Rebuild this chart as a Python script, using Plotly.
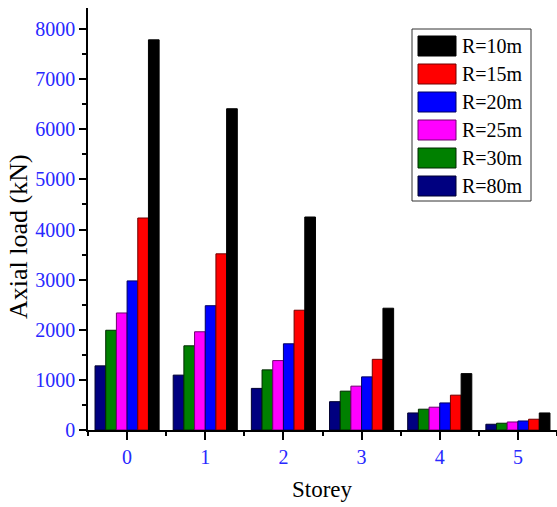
import plotly.graph_objects as go

storeys = [0, 1, 2, 3, 4, 5]
series_names = ["R=80m", "R=30m", "R=25m", "R=20m", "R=15m", "R=10m"]
r80 = [1280, 1095, 830, 565, 340, 115]
r30 = [1990, 1680, 1200, 775, 415, 135]
r25 = [2335, 1960, 1385, 875, 455, 160]
r20 = [2975, 2480, 1720, 1060, 540, 180]
r15 = [4230, 3515, 2390, 1410, 695, 215]
r10 = [7785, 6410, 4250, 2430, 1125, 340]
values = [r80, r30, r25, r20, r15, r10]
colors = ["#000080", "#008000", "#ff00ff", "#0000ff", "#ff0000", "#000000"]
edges = ["#000030", "#002800", "#700070", "#000060", "#700000", "#000000"]
legend_order = ["R=10m", "R=15m", "R=20m", "R=25m", "R=30m", "R=80m"]
x_title = "Storey"
y_title = "Axial load (kN)"

FONT = "Liberation Serif, Times New Roman, serif"
TICKBLUE = "#2828ff"

fig = go.Figure()
for name, vals, c, e in zip(series_names, values, colors, edges):
    fig.add_trace(go.Bar(x=storeys, y=vals, name=name, marker=dict(color=c, line=dict(color=e, width=1)),
                         showlegend=False))

W, H = 557, 507
L, R, T, B = 88, 0, 8, 77
pw, ph = W - L - R, H - T - B

def px(x):
    return (x - L) / pw

def py(y):
    return (H - B - y) / ph

shapes = []
annotations = []
# legend box
shapes.append(dict(type="rect", xref="paper", yref="paper", x0=px(412), x1=px(531), y0=py(201), y1=py(29),
                   line=dict(color="#333", width=1), fillcolor="white", layer="above"))
cmap = dict(zip(series_names, colors))
emap = dict(zip(series_names, edges))
for i, name in enumerate(legend_order):
    cy = 46 + 28 * i
    shapes.append(dict(type="rect", xref="paper", yref="paper", x0=px(418), x1=px(456), y0=py(cy + 10), y1=py(cy - 10),
                       line=dict(color=emap[name], width=1), fillcolor=cmap[name], layer="above"))
    annotations.append(dict(xref="paper", yref="paper", x=px(460), y=py(cy), text=name, showarrow=False,
                            xanchor="left", yanchor="middle", font=dict(family=FONT, size=20, color="black")))

# y-axis title
annotations.append(dict(xref="paper", yref="paper", x=px(18), y=py(237), text=y_title, showarrow=False,
                        textangle=-90, xanchor="center", yanchor="middle",
                        font=dict(family=FONT, size=26, color="black")))
# x-axis title
annotations.append(dict(xref="paper", yref="paper", x=px(322), y=py(490), text=x_title, showarrow=False,
                        xanchor="center", yanchor="middle",
                        font=dict(family=FONT, size=23, color="black")))

fig.update_layout(
    width=W, height=H,
    margin=dict(l=L, r=R, t=T, b=B),
    paper_bgcolor="white", plot_bgcolor="white",
    barmode="group", bargap=0.18, bargroupgap=0,
    font=dict(family=FONT, color="black"),
    shapes=shapes, annotations=annotations,
    xaxis=dict(range=[-0.5, 5.5], tickmode="array", tickvals=storeys, ticktext=[str(s) for s in storeys],
               automargin=False,
               showline=True, linecolor="black", linewidth=1.5, ticks="outside", ticklen=8, tickwidth=1.5,
               tickcolor="black", showgrid=False, zeroline=False,
               tickfont=dict(family=FONT, size=20, color=TICKBLUE),
               minor=dict(tickmode="array", tickvals=[-0.5, 0.5, 1.5, 2.5, 3.5, 4.5, 5.5], ticks="outside",
                          ticklen=4, tickwidth=1.5, tickcolor="black", showgrid=False)),
    yaxis=dict(range=[0, 8420], tickmode="linear", tick0=0, dtick=1000,
               automargin=False,
               showline=True, linecolor="black", linewidth=1.5, ticks="outside", ticklen=7, tickwidth=1.5,
               tickcolor="black", showgrid=False, zeroline=False,
               tickfont=dict(family=FONT, size=20, color=TICKBLUE),
               minor=dict(dtick=500, ticks="outside", ticklen=4, tickwidth=1.5, tickcolor="black", showgrid=False)),
)

fig.write_html("out.html", config={"displayModeBar": False})
with open("out.html", "r", encoding="utf-8") as f:
    html = f.read()
html = html.replace("<head>", "<head><style>html,body{margin:0;padding:0;overflow:hidden;}</style>", 1)
with open("out.html", "w", encoding="utf-8") as f:
    f.write(html)
